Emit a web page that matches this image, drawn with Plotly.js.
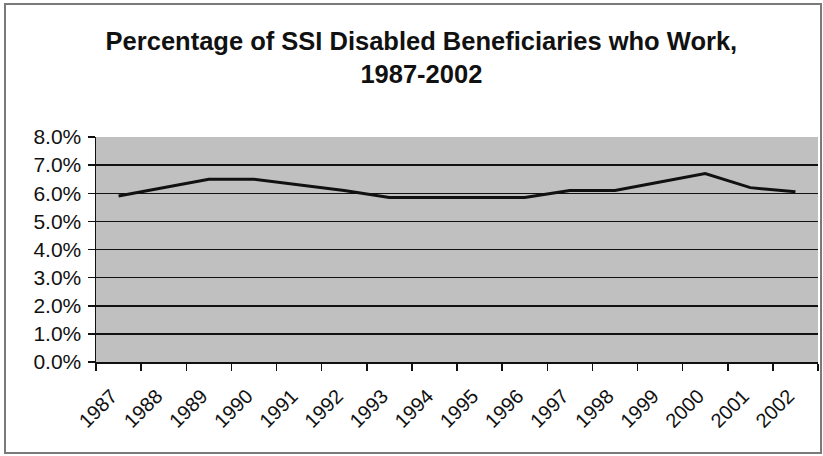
<!DOCTYPE html>
<html>
<head>
<meta charset="utf-8">
<script src="https://cdn.plot.ly/plotly-3.0.1.min.js"></script>
<style>
  html, body { margin: 0; padding: 0; background: #ffffff; }
  #chart { width: 823px; height: 456px; }
</style>
</head>
<body>
<div id="chart"></div>
<script>
// Share of SSI disabled beneficiaries with earnings, by year
const years = ['1987', '1988', '1989', '1990', '1991', '1992', '1993', '1994',
               '1995', '1996', '1997', '1998', '1999', '2000', '2001', '2002'];
const pctWorking = [5.9, 6.2, 6.5, 6.5, 6.3, 6.1, 5.85, 5.85,
                    5.85, 5.85, 6.1, 6.1, 6.4, 6.7, 6.2, 6.05];
const yTicks = [0, 1, 2, 3, 4, 5, 6, 7, 8];
const yTickText = yTicks.map(v => v.toFixed(1) + '%');

const font = 'Liberation Sans, Arial, sans-serif';

// Plot area in pixels, used to place the outer frame in paper units
const W = 823, H = 456;
const M = { l: 96, r: 5, t: 137, b: 94 };
const plotW = W - M.l - M.r;
const plotH = H - M.t - M.b;
const px = x => (x - M.l) / plotW;
const py = y => (H - M.b - y) / plotH;

const trace = {
  type: 'scatter',
  mode: 'lines',
  x: years,
  y: pctWorking,
  line: { color: '#111111', width: 3 },
  hoverinfo: 'x+y'
};

const layout = {
  width: W,
  height: H,
  margin: M,
  paper_bgcolor: '#ffffff',
  plot_bgcolor: '#c0c0c0',
  showlegend: false,
  title: {
    text: '<b>Percentage of SSI Disabled Beneficiaries who Work,<br>1987-2002</b>',
    font: { family: font, size: 25.5, color: '#111111' },
    x: 0.512,
    xanchor: 'center',
    y: 0.89,
    yanchor: 'middle'
  },
  xaxis: {
    type: 'category',
    tickson: 'boundaries',
    ticks: 'outside',
    ticklen: 7,
    tickwidth: 1.5,
    tickcolor: '#111111',
    tickangle: -45,
    ticklabelstandoff: 13,
    ticklabelshift: -7,
    tickfont: { family: font, size: 20, color: '#111111' },
    showgrid: false,
    showline: true,
    linecolor: '#111111',
    linewidth: 1.5,
    zeroline: false,
    range: [-0.5, 15.5]
  },
  yaxis: {
    range: [0, 8],
    tickvals: yTicks,
    ticktext: yTickText,
    ticks: 'outside',
    ticklen: 7,
    tickwidth: 1.5,
    tickcolor: '#111111',
    ticklabelstandoff: 2,
    tickfont: { family: font, size: 21, color: '#111111' },
    showgrid: true,
    gridcolor: '#111111',
    gridwidth: 1.5,
    showline: true,
    linecolor: '#111111',
    linewidth: 1.5,
    zeroline: false
  },
  shapes: [
    // outer chart frame
    {
      type: 'rect', xref: 'paper', yref: 'paper',
      x0: px(5), x1: px(821), y0: py(453), y1: py(4),
      line: { color: '#7a7a7a', width: 2 },
      fillcolor: 'rgba(0,0,0,0)',
      layer: 'below'
    }
  ]
};

Plotly.newPlot('chart', [trace], layout, { displayModeBar: false, staticPlot: true });
</script>
</body>
</html>
